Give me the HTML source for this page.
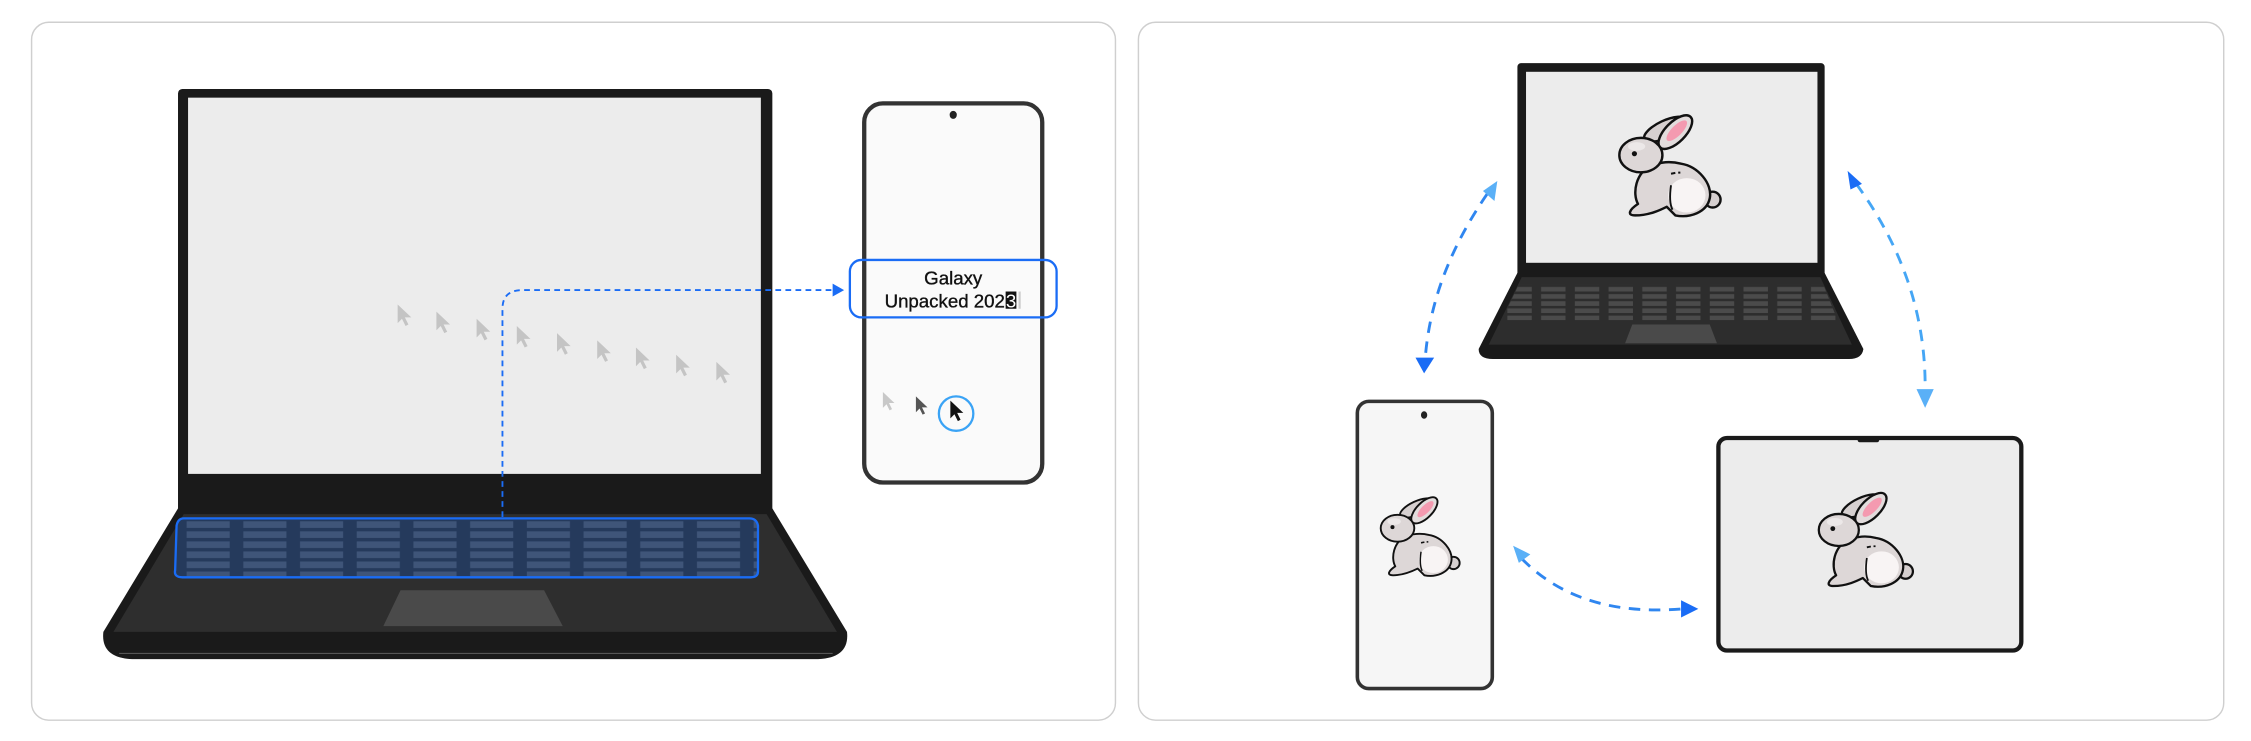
<!DOCTYPE html>
<html><head><meta charset="utf-8"><style>
html,body{margin:0;padding:0;background:#fff;width:2251px;height:741px;overflow:hidden}
svg{display:block}
text{font-family:"Liberation Sans",sans-serif}
</style></head><body>
<svg width="2251" height="741" viewBox="0 0 1568 516" preserveAspectRatio="none" xmlns="http://www.w3.org/2000/svg">
<defs>
<pattern id="kb" x="128" y="362" width="39.5" height="7" patternUnits="userSpaceOnUse">
<rect x="2" y="1" width="30" height="4.6" fill="#3f5579"/>
</pattern>
<pattern id="kg" x="1048" y="199" width="23.5" height="5" patternUnits="userSpaceOnUse">
<rect x="2" y="0.8" width="17" height="3.2" fill="#4b4b4b"/>
</pattern>
<clipPath id="kgc"><path d="M1058 198 L1270 198 L1280 223 L1046 223 Z"/></clipPath>
<clipPath id="kbc"><path d="M128 361 L522 361 Q527 361 528 366 L528 398 Q528 402 523 402 L127 402 Q121 402 122 397 L123 366 Q124 361 128 361 Z"/></clipPath>
<g id="cur"><path d="M0 0 L0 13 L3 10 L5.5 15 L7.5 14 L5 9 L9.5 9 Z"/></g>
<g id="bun" stroke="#111" stroke-width="1.7" stroke-linejoin="round">
<ellipse cx="33" cy="10" rx="16" ry="6" transform="rotate(-25 33 10)" fill="#d6d0d0"/>
<ellipse cx="40" cy="12" rx="15" ry="7" transform="rotate(-45 40 12)" fill="#e2dcdc"/>
<ellipse cx="41" cy="11" rx="9.5" ry="3.6" transform="rotate(-45 41 11)" fill="#f49ab0" stroke="none"/>
<circle cx="66" cy="59" r="5.5" fill="#d6d0d0"/>
<path d="M24 35 C12 40 10 55 14 62 C8 66 6 70 12 70 C22 70 30 66 34 64 L40 70 C50 72 62 68 64 58 C66 48 56 36 44 34 C36 32 30 33 24 35 Z" fill="#ddd7d7"/>
<ellipse cx="48" cy="56" rx="13" ry="12" fill="#f8f4f4" stroke="none"/>
<path d="M37 49 C36 56 36 62 38 66" fill="none" stroke-width="1.3"/>
<ellipse cx="16" cy="28" rx="15" ry="12" fill="#ddd7d7"/>
<ellipse cx="13" cy="22" rx="6" ry="3" fill="#ece8e8" stroke="none"/>
<circle cx="11.5" cy="27" r="1.8" fill="#111" stroke="none"/>
<path d="M37 41 l3 -0.6 M42 40.2 l1.5 0" stroke-width="1.4"/>
</g>
</defs>

<rect x="22" y="15.5" width="755" height="486" rx="12" fill="#fff" stroke="#cfcfcf" stroke-width="1"/>
<rect x="793" y="15.5" width="756" height="486" rx="12" fill="#fff" stroke="#cfcfcf" stroke-width="1"/>

<!-- LEFT LAPTOP -->
<rect x="124" y="62" width="414" height="296" rx="3" fill="#1a1a1a"/>
<rect x="131" y="68" width="399" height="262" fill="#ececec"/>
<path d="M124 354 L538 354 L590 440 Q592 458 570 459 L92 459 Q70 458 72 440 Z" fill="#1a1a1a"/>
<path d="M128 358 L534 358 L583 440 L79 440 Z" fill="#2e2e2e"/>
<line x1="83" y1="455" x2="580" y2="455" stroke="#555" stroke-width="0.8"/>
<path d="M128 361 L522 361 Q527 361 528 366 L528 398 Q528 402 523 402 L127 402 Q121 402 122 397 L123 366 Q124 361 128 361 Z" fill="#253a5c"/>
<rect x="120" y="360" width="410" height="44" fill="url(#kb)" clip-path="url(#kbc)"/>
<path d="M128 361 L522 361 Q527 361 528 366 L528 398 Q528 402 523 402 L127 402 Q121 402 122 397 L123 366 Q124 361 128 361 Z" fill="none" stroke="#1a6cf5" stroke-width="1.6"/>
<path d="M279 411 L379 411 L392 436 L267 436 Z" fill="#4a4a4a"/>

<g fill="#c4c4c4">
<use href="#cur" transform="translate(277 212)"/>
<use href="#cur" transform="translate(304 217)"/>
<use href="#cur" transform="translate(332 222)"/>
<use href="#cur" transform="translate(360 227)"/>
<use href="#cur" transform="translate(388 232)"/>
<use href="#cur" transform="translate(416 237)"/>
<use href="#cur" transform="translate(443 242)"/>
<use href="#cur" transform="translate(471 247)"/>
<use href="#cur" transform="translate(499 252)"/>
</g>

<path d="M350 360 L350 215 Q350 202 364 202 L580 202" fill="none" stroke="#1a6cf5" stroke-width="1.3" stroke-dasharray="4 3"/>
<path d="M580 197.5 L588 202 L580 206.5 Z" fill="#1a6cf5"/>

<!-- LEFT PHONE -->
<rect x="602" y="72" width="124" height="264" rx="13" fill="#fafafa" stroke="#333" stroke-width="3"/>
<ellipse cx="664" cy="80" rx="2.5" ry="2.8" fill="#222"/>
<rect x="592" y="181" width="144" height="40" rx="8" fill="none" stroke="#1a6cf5" stroke-width="1.6"/>
<text x="664" y="198" font-size="13" text-anchor="middle" fill="#111" stroke="#111" stroke-width="0.25">Galaxy</text>
<text x="700" y="214" font-size="13" text-anchor="end" fill="#111" stroke="#111" stroke-width="0.25">Unpacked 202</text>
<rect x="700.5" y="203" width="7.5" height="12" fill="#111"/>
<text x="704.3" y="214" font-size="13" text-anchor="middle" fill="#fff">3</text>
<rect x="709.5" y="203" width="1.5" height="12" fill="#ccc"/>
<use href="#cur" transform="translate(615 273) scale(0.85)" fill="#c8c8c8"/>
<use href="#cur" transform="translate(638 276) scale(0.85)" fill="#555"/>
<circle cx="666" cy="288" r="12" fill="none" stroke="#3aa3f5" stroke-width="1.6"/>
<use href="#cur" transform="translate(662 279) scale(0.95)" fill="#111"/>

<!-- RIGHT LAPTOP -->
<rect x="1057" y="44" width="214" height="150" rx="2.5" fill="#1a1a1a"/>
<rect x="1063" y="50" width="203" height="133" fill="#ececec"/>
<path d="M1057 190 L1271 190 L1298 243 Q1297 250 1288 250 L1040 250 Q1030 250 1030 243 Z" fill="#1a1a1a"/>
<path d="M1060 193 L1268 193 L1290 240 L1037 240 Z" fill="#2d2d2d"/>
<rect x="1040" y="196" width="250" height="30" fill="url(#kg)" clip-path="url(#kgc)"/>
<path d="M1137 226 L1191 226 L1196 239 L1132 239 Z" fill="#4a4a4a"/>
<use href="#bun" transform="translate(1127 80)"/>

<!-- RIGHT PHONE -->
<rect x="945.5" y="279.5" width="94" height="200" rx="8" fill="#f6f6f6" stroke="#333" stroke-width="2.5"/>
<ellipse cx="992" cy="289" rx="2.2" ry="2.6" fill="#222"/>
<use href="#bun" transform="translate(961 346) scale(0.78)"/>

<!-- TABLET -->
<rect x="1197" y="305" width="211" height="148" rx="6" fill="#ececec" stroke="#1a1a1a" stroke-width="3"/>
<rect x="1294" y="304" width="15" height="4" rx="1.5" fill="#1a1a1a"/>
<use href="#bun" transform="translate(1266 343) scale(0.93)"/>

<!-- ARROWS -->
<g fill="none" stroke-width="2" stroke-dasharray="8 6">
<path d="M1036 135 Q998 190 993 247" stroke="#2f86f0"/>
<path d="M1293 128 Q1342 195 1341 272" stroke="#45a6f5"/>
<path d="M1060 389 Q1100 430 1172 424" stroke="#2f86f0"/>
</g>
<path d="M1043 126 L1041 140 L1033 133 Z" fill="#5ab0f7"/>
<path d="M986 249 L999 249 L992 260 Z" fill="#1a6cf5"/>
<path d="M1287 119 L1297 128 L1289 132 Z" fill="#1a6cf5"/>
<path d="M1335 271 L1347 271 L1341 284 Z" fill="#5ab0f7"/>
<path d="M1054 380 L1066 386 L1058 392 Z" fill="#5ab0f7"/>
<path d="M1171 418 L1183 424 L1171 430 Z" fill="#1a6cf5"/>
</svg>
</body></html>
